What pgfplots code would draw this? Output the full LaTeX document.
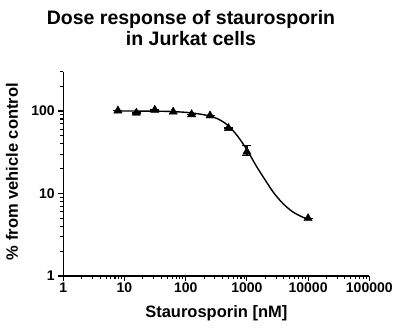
\documentclass[border=0pt]{standalone}
\usepackage{fontspec}
\setmainfont{Liberation Sans}
\usepackage{pgfplots}
\pgfplotsset{compat=1.18}
\begin{document}
\begin{tikzpicture}
\useasboundingbox (-63.3pt,-53pt) rectangle (336.7pt,276pt);
\begin{axis}[
  at={(0,0)}, anchor=south west,
  scale only axis, width=306pt, height=204.3pt,
  xmode=log, ymode=log,
  xmin=1, xmax=100000, ymin=1, ymax=300,
  axis x line=bottom, axis y line=left,
  axis line style={-, line width=1.3pt},
  xtick align=outside, ytick align=outside,
  major tick length=5pt, minor tick length=3pt,
  xtick style={draw=black, line width=1.1pt},
  ytick style={draw=black, line width=1.1pt},
  xtick={1,10,100,1000,10000,100000},
  xticklabels={1,10,100,1000,10000,100000},
  ytick={1,10,100}, yticklabels={1,10,100},
  tick label style={font=\fontsize{14}{14}\selectfont\bfseries},
  xticklabel style={anchor=base, yshift=-12pt},
  yticklabel style={anchor=east},
  xlabel={Staurosporin [nM]},
  ylabel={\% from vehicle control},
  label style={font=\fontsize{16.5}{17}\selectfont\bfseries},
  xlabel style={at={(axis description cs:0.5,-0.2056)}, anchor=base},
  ylabel style={at={(axis description cs:-0.1676,0.511)}, anchor=center},
  clip=false,
]
\pgfplotsinvokeforeach{2,3,4,5,6,7,8,9,20,30,40,50,60,70,80,90,200,300,400,500,600,700,800,900,2000,3000,4000,5000,6000,7000,8000,9000,20000,30000,40000,50000,60000,70000,80000,90000}{
  \draw[line width=1.1pt] (axis cs:#1,1) -- ([yshift=-3pt]axis cs:#1,1);
}
\pgfplotsinvokeforeach{1,10,100,1000,10000,100000}{
  \draw[line width=1.1pt] (axis cs:#1,1) -- ([yshift=-5pt]axis cs:#1,1);
}
\pgfplotsinvokeforeach{2,3,4,5,6,7,8,9,20,30,40,50,60,70,80,90,200,300}{
  \draw[line width=1.1pt] (axis cs:1,#1) -- ([xshift=-3pt]axis cs:1,#1);
}
\pgfplotsinvokeforeach{1,10,100}{
  \draw[line width=1.1pt] (axis cs:1,#1) -- ([xshift=-5pt]axis cs:1,#1);
}
\addplot[black, line width=1.4pt, smooth, no marks] coordinates {
(7.8125,100) (15.625,100) (31.25,99.8) (62.5,98.5) (125,95) (250,87)
(375,77) (500,66) (700,50) (1000,34) (1400,22) (2000,14.5) (2800,10)
(4000,7.4) (5600,6.0) (8000,5.2) (10000,4.9)
};
\addplot[only marks, mark=triangle*, mark size=4.8pt, black,
  error bars/.cd, y dir=both, y explicit,
  error bar style={line width=1.3pt},
  error mark options={rotate=90, mark size=4.5pt, line width=1.4pt}]
coordinates {
(7.8125,101) +- (0,0)
(15.625,95) +- (0,0)
(31.25,103) +- (0,0)
(62.5,98) +- (0,0)
(125,91) +- (0,0)
(250,88) +- (0,0)
(500,62) +- (0,0)
(1000,32) += (0,6.5) -= (0,3)
(10000,5.0) +- (0,0)
};
\end{axis}
\node[anchor=base, font=\fontsize{19.5}{20}\selectfont\bfseries] at (127.7pt,251pt) {Dose response of staurosporin};
\node[anchor=base, font=\fontsize{19.5}{20}\selectfont\bfseries] at (127.7pt,230pt) {in Jurkat cells};
\end{tikzpicture}
\end{document}
